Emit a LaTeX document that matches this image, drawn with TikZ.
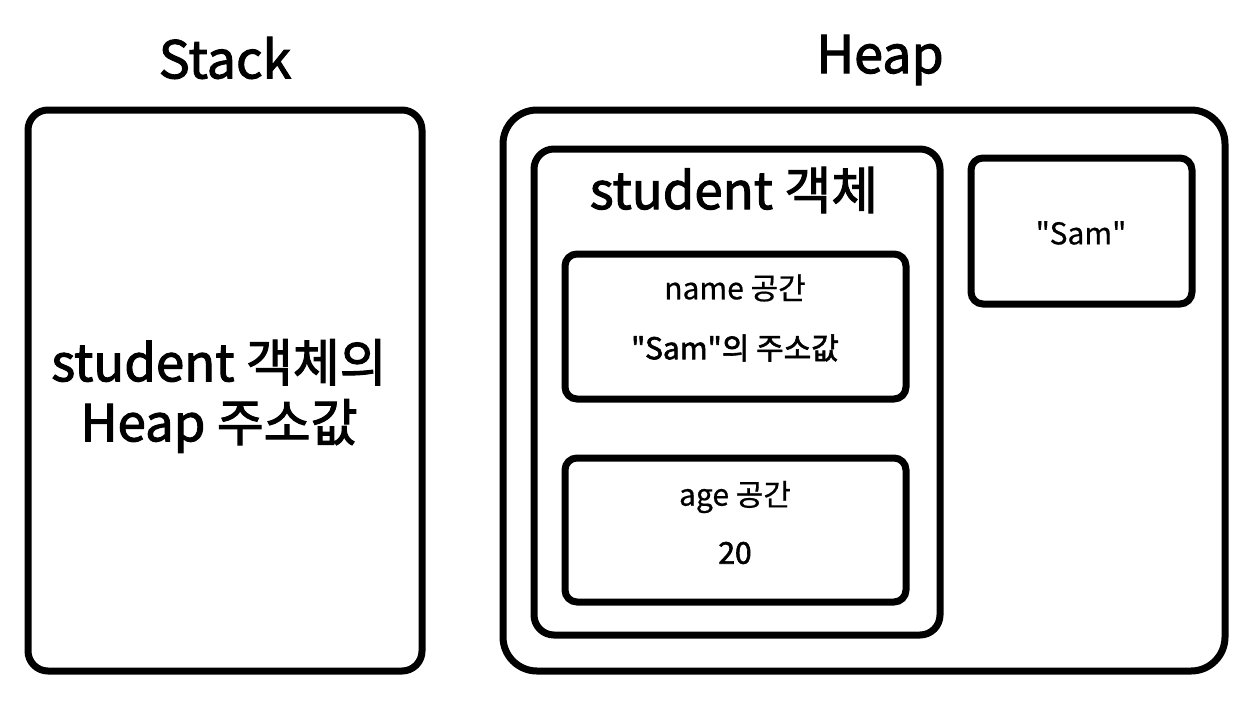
\documentclass[tikz,border=0pt]{standalone}
\usepackage{fontspec}
\setmainfont{Noto Sans CJK KR}
\newfontfamily\medfont[FakeBold=2]{Noto Sans CJK KR}
\newfontfamily\regfont[FakeBold=0.6]{Noto Sans CJK KR}
\newcommand\dq{\symbol{34}}
\tikzset{
  memframe/.style={draw=black, line width=7pt, fill=white, inner sep=0pt},
  title/.style={font=\medfont\fontsize{52}{58}\selectfont, inner sep=0pt},
  bigtxt/.style={font=\medfont\fontsize{51}{60}\selectfont, inner sep=0pt, align=center},
  smalltxt/.style={font=\regfont\fontsize{30}{34}\selectfont, inner sep=0pt},
  medtxt/.style={font=\medfont\fontsize{30}{34}\selectfont, inner sep=0pt},
}
\begin{document}
\begin{tikzpicture}[x=1pt, y=-1pt]
\useasboundingbox (0,0) rectangle (1246,704);
% titles
\node[title] (stacktitle) at (225,58) {Stack};
\node[title] (heaptitle) at (880,60) {Heap};
% stack
\node[memframe, rounded corners=20pt, minimum width=394pt, minimum height=561pt] (stack) at (225,390.5) {};
\node[bigtxt] (stacktxt) at (219,396) {student 객체의\\Heap 주소값};
% heap
\node[memframe, rounded corners=34pt, minimum width=722pt, minimum height=561pt] (heap) at (864,390.5) {};
\node[memframe, rounded corners=20pt, minimum width=406pt, minimum height=486pt] (obj) at (737,392) {};
\node[bigtxt] (objtitle) at (734,190) {student 객체};
\node[memframe, rounded corners=12pt, minimum width=341pt, minimum height=145pt] (namebox) at (735.5,326.5) {};
\node[smalltxt] (namelbl) at (735,288) {name 공간};
\node[medtxt] (nameval) at (735,348) {\dq Sam\dq 의 주소값};
\node[memframe, rounded corners=12pt, minimum width=341pt, minimum height=144pt] (agebox) at (735.5,530) {};
\node[smalltxt] (agelbl) at (735,497) {age 공간};
\node[medtxt] (ageval) at (735,553) {20};
\node[memframe, rounded corners=12pt, minimum width=221pt, minimum height=146pt] (sambox) at (1081.5,231) {};
\node[smalltxt] (samtxt) at (1081,233) {\dq Sam\dq};
\end{tikzpicture}
\end{document}
